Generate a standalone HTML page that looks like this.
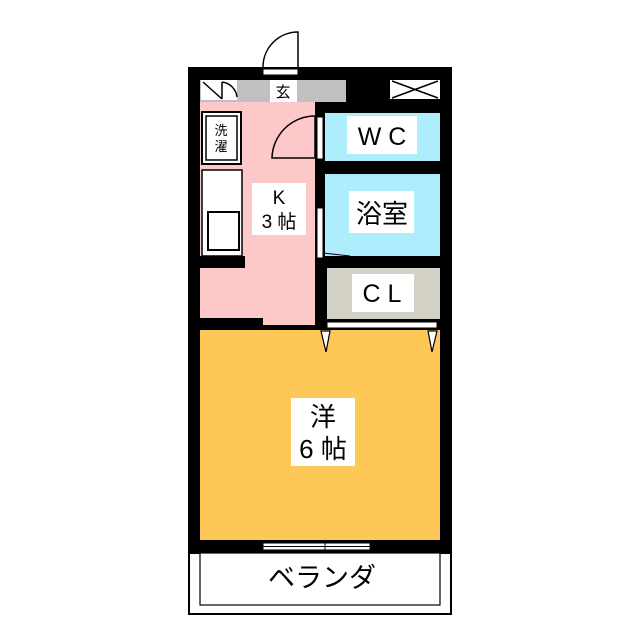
<html><body style="margin:0;background:#fff">
<svg width="640" height="640" viewBox="0 0 640 640" xmlns="http://www.w3.org/2000/svg" style="font-family:'Liberation Sans','Noto Sans CJK JP',sans-serif">
<rect width="640" height="640" fill="#fff"/>
<path d="M263,68 A35,35 0 0 1 298,32 L298,68" fill="#fff" stroke="#000" stroke-width="1.5"/>
<rect x="188" y="67" width="264" height="486" fill="#000"/>
<rect x="263" y="69" width="35" height="6" fill="#fff" stroke="#000" stroke-width="1"/>
<rect x="200" y="80" width="146" height="22" fill="#c0c0c0"/>
<rect x="201" y="80" width="36" height="20" fill="#fff"/>
<path d="M203,82 L222,99 M222,82 L222,99" stroke="#000" stroke-width="1.5"/>
<path d="M222,82 A17,17 0 0 1 237,97" fill="none" stroke="#000" stroke-width="1.5"/>
<rect x="270" y="80" width="27" height="22" fill="#fff"/>
<text x="283" y="97" font-size="15" text-anchor="middle">玄</text>
<rect x="390" y="80" width="50" height="19" fill="#fff"/>
<path d="M392,81 L438,98 M438,81 L392,98" stroke="#000" stroke-width="1.5"/>
<rect x="200" y="102" width="115" height="223" fill="#fcc9c8"/>
<rect x="202" y="112" width="39" height="52" fill="#fff" stroke="#000" stroke-width="2"/>
<rect x="206" y="116" width="31" height="44" fill="#fff" stroke="#000" stroke-width="1.5"/>
<text x="221" y="135" font-size="13" text-anchor="middle">洗</text>
<text x="221" y="151" font-size="13" text-anchor="middle">濯</text>
<rect x="202" y="170" width="40" height="86" fill="#fff" stroke="#000" stroke-width="1.5"/>
<rect x="208" y="212" width="31" height="38" fill="#fff" stroke="#000" stroke-width="2"/>
<rect x="200" y="256" width="45" height="12" fill="#000"/>
<rect x="200" y="318" width="63" height="12" fill="#000"/>
<path d="M272,158 A43,43 0 0 1 315,116 L315,158 Z" fill="none" stroke="#000" stroke-width="1.5"/>
<rect x="252" y="183" width="54" height="52" fill="#fff"/>
<text x="279" y="204" font-size="19" text-anchor="middle">K</text>
<text x="279" y="228" font-size="19" text-anchor="middle">3 帖</text>
<rect x="325" y="113" width="115" height="48" fill="#aeeefc"/>
<rect x="317" y="117" width="6" height="42" fill="#fff" stroke="#000" stroke-width="1"/>
<rect x="347" y="116" width="70" height="38" fill="#fff"/>
<text x="382" y="145" font-size="25" text-anchor="middle">W C</text>
<rect x="325" y="174" width="115" height="82" fill="#aeeefc"/>
<rect x="317" y="208" width="6" height="50" fill="#fff" stroke="#000" stroke-width="1"/>
<path d="M323,253 L350,256" stroke="#000" stroke-width="1"/>
<rect x="349" y="191" width="65" height="42" fill="#fff"/>
<text x="382" y="223" font-size="26" text-anchor="middle">浴室</text>
<rect x="327" y="268" width="113" height="51" fill="#d4d2c7"/>
<rect x="352" y="274" width="62" height="38" fill="#fff"/>
<text x="382" y="302" font-size="25" text-anchor="middle">C L</text>
<rect x="327" y="322" width="110" height="6" fill="#fff" stroke="#000" stroke-width="1"/>
<rect x="200" y="330" width="240" height="210" fill="#fec857"/>
<path d="M321,331 L330,331 L326,352 Z M428,331 L437,331 L432,352 Z" fill="#fff" stroke="#000" stroke-width="1.2"/>
<rect x="291" y="398" width="64" height="68" fill="#fff"/>
<text x="323" y="426" font-size="26" text-anchor="middle">洋</text>
<text x="323" y="458" font-size="26" text-anchor="middle">6 帖</text>
<rect x="263" y="543" width="107" height="7" fill="#fff" stroke="#000" stroke-width="1"/>
<path d="M263,546.5 L370,546.5 M325,540 L325,553" stroke="#000" stroke-width="1"/>
<rect x="189" y="553" width="262" height="61" fill="#fff" stroke="#000" stroke-width="2"/>
<rect x="200" y="553" width="240" height="52" fill="#fff" stroke="#000" stroke-width="1.2"/>
<text x="322" y="587" font-size="27" text-anchor="middle">ベランダ</text>
</svg>
</body></html>
